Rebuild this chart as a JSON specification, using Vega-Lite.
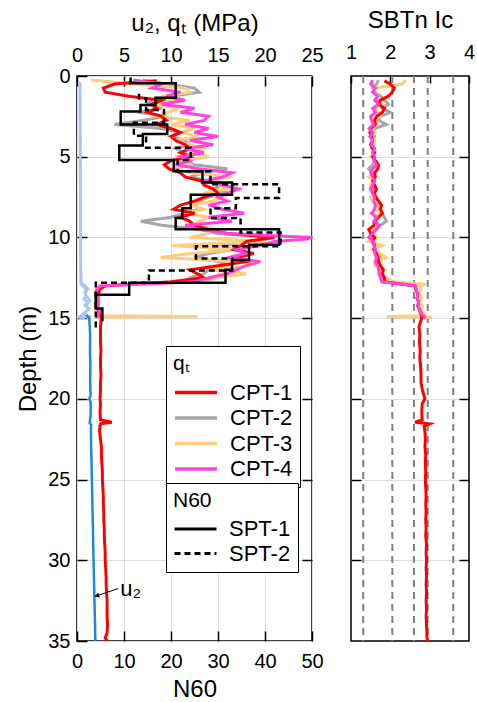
{
  "$schema": "https://vega.github.io/schema/vega-lite/v6.json",
  "background": "white",
  "padding": {"left": 16, "top": 7, "right": 5, "bottom": 5},
  "config": {
    "font": "Liberation Sans",
    "view": {"stroke": "black", "strokeWidth": 1.5},
    "axis": {"labelFontSize": 20, "titleFontSize": 24, "titleFontWeight": "normal", "labelColor": "black", "titleColor": "black", "tickColor": "black", "tickWidth": 1.5, "domain": false, "gridColor": "#dcdcdc", "gridWidth": 1, "tickSize": -10, "labelPadding": 20, "titlePadding": 8, "labelOverlap": false, "labelFlush": false, "labelBound": false},
    "legend": {"labelFontSize": 22, "titleFontSize": 21, "titleFontWeight": "normal", "labelColor": "black", "titleColor": "black", "symbolType": "M-1,0H3", "symbolSize": 441, "symbolStrokeWidth": 3.5, "strokeColor": "black", "fillColor": "white", "padding": 7, "rowPadding": 1.5, "titlePadding": 6, "labelOffset": 32, "orient": "none", "labelLimit": 300}
  },
  "datasets": {
    "cpt": [
      {"c":"CPT-2","d":0.25,"q":7.0,"i":1.70},{"c":"CPT-2","d":0.5,"q":9.5,"i":1.65},{"c":"CPT-2","d":0.75,"q":12.5,"i":1.55},{"c":"CPT-2","d":1.0,"q":13.0,"i":1.60},{"c":"CPT-2","d":1.25,"q":10.0,"i":1.75},{"c":"CPT-2","d":1.5,"q":8.0,"i":1.85},{"c":"CPT-2","d":1.75,"q":7.5,"i":1.95},{"c":"CPT-2","d":2.0,"q":9.0,"i":1.80},{"c":"CPT-2","d":2.25,"q":6.5,"i":2.00},{"c":"CPT-2","d":2.5,"q":9.5,"i":1.75},{"c":"CPT-2","d":2.75,"q":7.0,"i":1.70},{"c":"CPT-2","d":3.0,"q":4.0,"i":1.90},{"c":"CPT-2","d":3.25,"q":9.0,"i":1.60},{"c":"CPT-2","d":3.5,"q":11.0,"i":1.55},{"c":"CPT-2","d":3.75,"q":10.0,"i":1.60},{"c":"CPT-2","d":4.0,"q":11.5,"i":1.55},{"c":"CPT-2","d":4.25,"q":12.0,"i":1.50},{"c":"CPT-2","d":4.5,"q":10.5,"i":1.60},{"c":"CPT-2","d":4.75,"q":11.5,"i":1.55},{"c":"CPT-2","d":5.0,"q":12.0,"i":1.58},{"c":"CPT-2","d":5.25,"q":11.0,"i":1.60},{"c":"CPT-2","d":5.5,"q":12.5,"i":1.55},{"c":"CPT-2","d":5.75,"q":16.0,"i":1.45},{"c":"CPT-2","d":6.0,"q":13.5,"i":1.55},{"c":"CPT-2","d":6.25,"q":12.0,"i":1.60},{"c":"CPT-2","d":6.5,"q":14.0,"i":1.58},{"c":"CPT-2","d":6.75,"q":15.5,"i":1.55},{"c":"CPT-2","d":7.0,"q":14.5,"i":1.60},{"c":"CPT-2","d":7.25,"q":16.0,"i":1.55},{"c":"CPT-2","d":7.5,"q":14.0,"i":1.65},{"c":"CPT-2","d":7.75,"q":13.0,"i":1.70},{"c":"CPT-2","d":8.0,"q":12.5,"i":1.75},{"c":"CPT-2","d":8.25,"q":13.0,"i":1.72},{"c":"CPT-2","d":8.5,"q":11.5,"i":1.78},{"c":"CPT-2","d":8.75,"q":10.0,"i":1.85},{"c":"CPT-2","d":9.0,"q":6.8,"i":1.90},{"c":"CPT-2","d":9.25,"q":9.0,"i":1.75},{"c":"CPT-2","d":9.5,"q":13.0,"i":1.60},{"c":"CPT-2","d":9.75,"q":15.0,"i":1.55},{"c":"CPT-2","d":10.0,"q":21.0,"i":1.50},{"c":"CPT-2","d":10.25,"q":18.5,"i":1.55},{"c":"CPT-2","d":10.5,"q":15.5,"i":1.62},{"c":"CPT-2","d":10.75,"q":16.5,"i":1.60},{"c":"CPT-2","d":11.0,"q":14.0,"i":1.70},{"c":"CPT-2","d":11.25,"q":12.5,"i":1.75},{"c":"CPT-2","d":11.5,"q":15.0,"i":1.68},{"c":"CPT-2","d":11.75,"q":16.5,"i":1.70},{"c":"CPT-2","d":12.0,"q":14.0,"i":1.75},{"c":"CPT-2","d":12.25,"q":13.5,"i":1.80},{"c":"CPT-2","d":12.5,"q":12.0,"i":1.82},{"c":"CPT-2","d":12.75,"q":11.5,"i":1.88},{"c":"CPT-2","d":13.0,"q":2.6,"i":2.65},{"c":"CPT-2","d":13.25,"q":2.2,"i":2.66},{"c":"CPT-2","d":13.5,"q":2.0,"i":2.70},{"c":"CPT-2","d":13.75,"q":2.1,"i":2.68},{"c":"CPT-2","d":14.0,"q":2.0,"i":2.72},{"c":"CPT-2","d":14.25,"q":2.2,"i":2.70},{"c":"CPT-2","d":14.5,"q":2.3,"i":2.74},{"c":"CPT-2","d":14.75,"q":2.2,"i":2.80},{"c":"CPT-2","d":15.0,"q":2.4,"i":2.85},
      {"c":"CPT-3","d":0.25,"q":1.5,"i":2.40},{"c":"CPT-3","d":0.5,"q":6.0,"i":2.30},{"c":"CPT-3","d":0.75,"q":11.5,"i":1.60},{"c":"CPT-3","d":1.0,"q":12.0,"i":1.55},{"c":"CPT-3","d":1.25,"q":9.0,"i":1.70},{"c":"CPT-3","d":1.5,"q":10.5,"i":1.65},{"c":"CPT-3","d":1.75,"q":8.0,"i":1.80},{"c":"CPT-3","d":2.0,"q":11.0,"i":1.60},{"c":"CPT-3","d":2.25,"q":9.5,"i":1.70},{"c":"CPT-3","d":2.5,"q":8.5,"i":1.75},{"c":"CPT-3","d":2.75,"q":12.0,"i":1.60},{"c":"CPT-3","d":3.0,"q":10.0,"i":1.65},{"c":"CPT-3","d":3.25,"q":12.5,"i":1.55},{"c":"CPT-3","d":3.5,"q":11.0,"i":1.62},{"c":"CPT-3","d":3.75,"q":13.0,"i":1.50},{"c":"CPT-3","d":4.0,"q":10.5,"i":1.60},{"c":"CPT-3","d":4.25,"q":12.0,"i":1.58},{"c":"CPT-3","d":4.5,"q":13.5,"i":1.52},{"c":"CPT-3","d":4.75,"q":12.0,"i":1.60},{"c":"CPT-3","d":5.0,"q":14.0,"i":1.50},{"c":"CPT-3","d":5.25,"q":11.0,"i":1.62},{"c":"CPT-3","d":5.5,"q":12.0,"i":1.60},{"c":"CPT-3","d":5.75,"q":10.5,"i":1.65},{"c":"CPT-3","d":6.0,"q":12.0,"i":1.60},{"c":"CPT-3","d":6.25,"q":16.5,"i":1.45},{"c":"CPT-3","d":6.5,"q":14.0,"i":1.55},{"c":"CPT-3","d":6.75,"q":15.0,"i":1.50},{"c":"CPT-3","d":7.0,"q":16.0,"i":1.48},{"c":"CPT-3","d":7.25,"q":13.5,"i":1.60},{"c":"CPT-3","d":7.5,"q":15.5,"i":1.50},{"c":"CPT-3","d":7.75,"q":14.5,"i":1.55},{"c":"CPT-3","d":8.0,"q":12.0,"i":1.68},{"c":"CPT-3","d":8.25,"q":13.5,"i":1.62},{"c":"CPT-3","d":8.5,"q":11.7,"i":1.75},{"c":"CPT-3","d":8.75,"q":14.0,"i":1.60},{"c":"CPT-3","d":9.0,"q":13.0,"i":1.65},{"c":"CPT-3","d":9.25,"q":12.5,"i":1.70},{"c":"CPT-3","d":9.5,"q":15.0,"i":1.55},{"c":"CPT-3","d":9.75,"q":14.0,"i":1.60},{"c":"CPT-3","d":10.0,"q":12.0,"i":1.65},{"c":"CPT-3","d":10.25,"q":20.0,"i":1.45},{"c":"CPT-3","d":10.5,"q":10.0,"i":1.80},{"c":"CPT-3","d":10.75,"q":17.0,"i":1.55},{"c":"CPT-3","d":11.0,"q":12.0,"i":1.75},{"c":"CPT-3","d":11.25,"q":8.9,"i":1.90},{"c":"CPT-3","d":11.5,"q":17.5,"i":1.60},{"c":"CPT-3","d":11.75,"q":18.5,"i":1.60},{"c":"CPT-3","d":12.0,"q":14.0,"i":1.85},{"c":"CPT-3","d":12.25,"q":18.0,"i":1.70},{"c":"CPT-3","d":12.5,"q":15.0,"i":1.90},{"c":"CPT-3","d":12.75,"q":13.0,"i":2.10},{"c":"CPT-3","d":12.9,"q":7.0,"i":2.90},{"c":"CPT-3","d":13.0,"q":2.2,"i":2.75},{"c":"CPT-3","d":13.25,"q":2.0,"i":2.78},{"c":"CPT-3","d":13.5,"q":1.9,"i":2.72},{"c":"CPT-3","d":13.75,"q":2.0,"i":2.80},{"c":"CPT-3","d":14.0,"q":2.1,"i":2.75},{"c":"CPT-3","d":14.25,"q":1.9,"i":2.82},{"c":"CPT-3","d":14.5,"q":2.0,"i":2.78},{"c":"CPT-3","d":14.75,"q":2.3,"i":2.85},{"c":"CPT-3","d":14.85,"q":2.3,"i":2.90},{"c":"CPT-3","d":14.9,"q":12.8,"i":1.90},{"c":"CPT-3","d":14.95,"q":2.2,"i":3.05},{"c":"CPT-3","d":15.0,"q":2.2,"i":2.95},
      {"c":"CPT-1","d":0.3,"q":8.5,"i":1.85},{"c":"CPT-1","d":0.5,"q":4.0,"i":2.00},{"c":"CPT-1","d":0.75,"q":2.8,"i":2.10},{"c":"CPT-1","d":1.0,"q":3.0,"i":2.05},{"c":"CPT-1","d":1.25,"q":5.5,"i":1.95},{"c":"CPT-1","d":1.5,"q":9.0,"i":1.75},{"c":"CPT-1","d":1.75,"q":8.0,"i":1.70},{"c":"CPT-1","d":2.0,"q":8.5,"i":1.85},{"c":"CPT-1","d":2.25,"q":7.5,"i":1.80},{"c":"CPT-1","d":2.5,"q":9.0,"i":1.65},{"c":"CPT-1","d":2.75,"q":9.5,"i":1.60},{"c":"CPT-1","d":3.0,"q":8.5,"i":1.62},{"c":"CPT-1","d":3.25,"q":10.0,"i":1.50},{"c":"CPT-1","d":3.5,"q":11.0,"i":1.48},{"c":"CPT-1","d":3.75,"q":10.0,"i":1.52},{"c":"CPT-1","d":4.0,"q":10.5,"i":1.55},{"c":"CPT-1","d":4.25,"q":11.5,"i":1.50},{"c":"CPT-1","d":4.5,"q":12.0,"i":1.55},{"c":"CPT-1","d":4.75,"q":11.0,"i":1.60},{"c":"CPT-1","d":5.0,"q":12.0,"i":1.55},{"c":"CPT-1","d":5.25,"q":10.0,"i":1.62},{"c":"CPT-1","d":5.5,"q":9.3,"i":1.70},{"c":"CPT-1","d":5.75,"q":9.8,"i":1.68},{"c":"CPT-1","d":6.0,"q":11.0,"i":1.60},{"c":"CPT-1","d":6.25,"q":11.5,"i":1.62},{"c":"CPT-1","d":6.5,"q":13.2,"i":1.55},{"c":"CPT-1","d":6.75,"q":13.5,"i":1.60},{"c":"CPT-1","d":7.0,"q":14.5,"i":1.65},{"c":"CPT-1","d":7.25,"q":15.0,"i":1.60},{"c":"CPT-1","d":7.5,"q":13.5,"i":1.62},{"c":"CPT-1","d":7.75,"q":12.5,"i":1.70},{"c":"CPT-1","d":8.0,"q":11.0,"i":1.78},{"c":"CPT-1","d":8.25,"q":10.3,"i":1.75},{"c":"CPT-1","d":8.5,"q":12.5,"i":1.80},{"c":"CPT-1","d":8.75,"q":11.0,"i":1.70},{"c":"CPT-1","d":9.0,"q":12.0,"i":1.60},{"c":"CPT-1","d":9.25,"q":12.5,"i":1.58},{"c":"CPT-1","d":9.5,"q":14.0,"i":1.45},{"c":"CPT-1","d":9.75,"q":16.0,"i":1.50},{"c":"CPT-1","d":10.0,"q":21.0,"i":1.60},{"c":"CPT-1","d":10.25,"q":18.0,"i":1.55},{"c":"CPT-1","d":10.5,"q":17.5,"i":1.60},{"c":"CPT-1","d":10.75,"q":16.7,"i":1.58},{"c":"CPT-1","d":11.0,"q":18.8,"i":1.65},{"c":"CPT-1","d":11.25,"q":17.0,"i":1.68},{"c":"CPT-1","d":11.5,"q":18.0,"i":1.70},{"c":"CPT-1","d":11.75,"q":15.0,"i":1.75},{"c":"CPT-1","d":12.0,"q":12.0,"i":1.82},{"c":"CPT-1","d":12.25,"q":12.8,"i":1.80},{"c":"CPT-1","d":12.5,"q":13.5,"i":1.85},{"c":"CPT-1","d":12.75,"q":10.0,"i":1.85},{"c":"CPT-1","d":13.0,"q":3.0,"i":2.62},{"c":"CPT-1","d":13.25,"q":2.4,"i":2.65},{"c":"CPT-1","d":13.5,"q":2.3,"i":2.70},{"c":"CPT-1","d":13.75,"q":2.2,"i":2.68},{"c":"CPT-1","d":14.0,"q":2.3,"i":2.72},{"c":"CPT-1","d":14.25,"q":2.2,"i":2.70},{"c":"CPT-1","d":14.5,"q":2.3,"i":2.75},{"c":"CPT-1","d":14.75,"q":2.4,"i":2.78},{"c":"CPT-1","d":15.0,"q":2.6,"i":2.80},{"c":"CPT-1","d":15.5,"q":2.5,"i":2.73},{"c":"CPT-1","d":16.0,"q":2.5,"i":2.75},{"c":"CPT-1","d":16.5,"q":2.5,"i":2.74},{"c":"CPT-1","d":17.0,"q":2.55,"i":2.76},{"c":"CPT-1","d":17.5,"q":2.5,"i":2.75},{"c":"CPT-1","d":18.0,"q":2.5,"i":2.77},{"c":"CPT-1","d":18.5,"q":2.55,"i":2.78},{"c":"CPT-1","d":19.0,"q":2.5,"i":2.78},{"c":"CPT-1","d":19.5,"q":2.5,"i":2.82},{"c":"CPT-1","d":20.0,"q":2.45,"i":2.88},{"c":"CPT-1","d":20.3,"q":2.5,"i":2.81},{"c":"CPT-1","d":20.8,"q":2.45,"i":2.80},{"c":"CPT-1","d":21.3,"q":2.5,"i":2.81},{"c":"CPT-1","d":21.45,"q":3.7,"i":2.63},{"c":"CPT-1","d":21.55,"q":2.5,"i":3.00},{"c":"CPT-1","d":21.7,"q":2.45,"i":2.86},{"c":"CPT-1","d":22.0,"q":2.4,"i":2.88},{"c":"CPT-1","d":22.5,"q":2.5,"i":2.89},{"c":"CPT-1","d":23.0,"q":2.6,"i":2.88},{"c":"CPT-1","d":23.5,"q":2.6,"i":2.90},{"c":"CPT-1","d":24.0,"q":2.65,"i":2.89},{"c":"CPT-1","d":24.5,"q":2.7,"i":2.90},{"c":"CPT-1","d":25.0,"q":2.7,"i":2.89},{"c":"CPT-1","d":25.5,"q":2.75,"i":2.90},{"c":"CPT-1","d":26.0,"q":2.8,"i":2.91},{"c":"CPT-1","d":26.5,"q":2.8,"i":2.90},{"c":"CPT-1","d":27.0,"q":2.85,"i":2.91},{"c":"CPT-1","d":27.5,"q":2.85,"i":2.90},{"c":"CPT-1","d":28.0,"q":2.9,"i":2.91},{"c":"CPT-1","d":28.5,"q":2.9,"i":2.90},{"c":"CPT-1","d":29.0,"q":2.95,"i":2.92},{"c":"CPT-1","d":29.5,"q":3.0,"i":2.91},{"c":"CPT-1","d":30.0,"q":3.0,"i":2.92},{"c":"CPT-1","d":30.5,"q":3.05,"i":2.91},{"c":"CPT-1","d":31.0,"q":3.1,"i":2.92},{"c":"CPT-1","d":31.5,"q":3.1,"i":2.91},{"c":"CPT-1","d":32.0,"q":3.15,"i":2.92},{"c":"CPT-1","d":32.5,"q":3.2,"i":2.91},{"c":"CPT-1","d":33.0,"q":3.2,"i":2.92},{"c":"CPT-1","d":33.5,"q":3.2,"i":2.91},{"c":"CPT-1","d":34.0,"q":3.25,"i":2.92},{"c":"CPT-1","d":34.5,"q":3.2,"i":2.93},{"c":"CPT-1","d":34.8,"q":3.0,"i":2.93},{"c":"CPT-1","d":35.0,"q":3.2,"i":2.95},
      {"c":"CPT-4","d":0.25,"q":6.0,"i":1.55},{"c":"CPT-4","d":0.5,"q":9.0,"i":1.50},{"c":"CPT-4","d":0.75,"q":8.0,"i":1.62},{"c":"CPT-4","d":1.0,"q":11.0,"i":1.55},{"c":"CPT-4","d":1.25,"q":9.5,"i":1.68},{"c":"CPT-4","d":1.5,"q":11.5,"i":1.60},{"c":"CPT-4","d":1.75,"q":9.0,"i":1.70},{"c":"CPT-4","d":2.0,"q":12.5,"i":1.55},{"c":"CPT-4","d":2.25,"q":11.0,"i":1.62},{"c":"CPT-4","d":2.5,"q":14.0,"i":1.50},{"c":"CPT-4","d":2.75,"q":13.5,"i":1.52},{"c":"CPT-4","d":3.0,"q":11.5,"i":1.58},{"c":"CPT-4","d":3.25,"q":14.0,"i":1.46},{"c":"CPT-4","d":3.5,"q":12.5,"i":1.55},{"c":"CPT-4","d":3.75,"q":15.0,"i":1.48},{"c":"CPT-4","d":4.0,"q":12.0,"i":1.55},{"c":"CPT-4","d":4.25,"q":14.5,"i":1.52},{"c":"CPT-4","d":4.5,"q":11.5,"i":1.60},{"c":"CPT-4","d":4.75,"q":13.5,"i":1.55},{"c":"CPT-4","d":5.0,"q":11.0,"i":1.60},{"c":"CPT-4","d":5.25,"q":12.0,"i":1.58},{"c":"CPT-4","d":5.5,"q":10.5,"i":1.65},{"c":"CPT-4","d":5.75,"q":13.0,"i":1.55},{"c":"CPT-4","d":6.0,"q":16.5,"i":1.50},{"c":"CPT-4","d":6.25,"q":15.5,"i":1.55},{"c":"CPT-4","d":6.5,"q":13.5,"i":1.60},{"c":"CPT-4","d":6.75,"q":15.5,"i":1.55},{"c":"CPT-4","d":7.0,"q":17.2,"i":1.50},{"c":"CPT-4","d":7.25,"q":16.0,"i":1.55},{"c":"CPT-4","d":7.5,"q":15.0,"i":1.60},{"c":"CPT-4","d":7.75,"q":16.0,"i":1.58},{"c":"CPT-4","d":8.0,"q":14.0,"i":1.62},{"c":"CPT-4","d":8.25,"q":15.5,"i":1.60},{"c":"CPT-4","d":8.5,"q":17.8,"i":1.52},{"c":"CPT-4","d":8.75,"q":14.0,"i":1.65},{"c":"CPT-4","d":9.0,"q":16.5,"i":1.58},{"c":"CPT-4","d":9.25,"q":11.5,"i":1.72},{"c":"CPT-4","d":9.5,"q":13.0,"i":1.65},{"c":"CPT-4","d":9.75,"q":16.0,"i":1.55},{"c":"CPT-4","d":10.0,"q":25.0,"i":1.45},{"c":"CPT-4","d":10.1,"q":24.5,"i":1.50},{"c":"CPT-4","d":10.25,"q":21.0,"i":1.55},{"c":"CPT-4","d":10.5,"q":19.5,"i":1.58},{"c":"CPT-4","d":10.75,"q":17.0,"i":1.62},{"c":"CPT-4","d":11.0,"q":18.0,"i":1.60},{"c":"CPT-4","d":11.25,"q":16.0,"i":1.65},{"c":"CPT-4","d":11.5,"q":19.5,"i":1.62},{"c":"CPT-4","d":11.75,"q":18.0,"i":1.68},{"c":"CPT-4","d":12.0,"q":17.0,"i":1.70},{"c":"CPT-4","d":12.25,"q":16.0,"i":1.72},{"c":"CPT-4","d":12.5,"q":14.0,"i":1.75},{"c":"CPT-4","d":12.75,"q":12.5,"i":1.78},{"c":"CPT-4","d":13.0,"q":2.5,"i":2.64},{"c":"CPT-4","d":13.25,"q":2.1,"i":2.66},{"c":"CPT-4","d":13.5,"q":2.0,"i":2.70},{"c":"CPT-4","d":13.75,"q":2.2,"i":2.68},{"c":"CPT-4","d":14.0,"q":2.3,"i":2.72},{"c":"CPT-4","d":14.25,"q":2.1,"i":2.70},{"c":"CPT-4","d":14.5,"q":2.4,"i":2.75},{"c":"CPT-4","d":14.75,"q":2.3,"i":2.80},{"c":"CPT-4","d":15.0,"q":2.2,"i":2.90}
    ],
    "u2": [
      {"g":"L1","d":0.4,"u":0.35},{"g":"L1","d":1,"u":0.33},{"g":"L1","d":2,"u":0.36},{"g":"L1","d":3,"u":0.34},{"g":"L1","d":4,"u":0.37},{"g":"L1","d":5,"u":0.35},{"g":"L1","d":6,"u":0.38},{"g":"L1","d":7,"u":0.36},{"g":"L1","d":8,"u":0.39},{"g":"L1","d":9,"u":0.37},{"g":"L1","d":10,"u":0.4},{"g":"L1","d":11,"u":0.38},{"g":"L1","d":12,"u":0.42},{"g":"L1","d":12.8,"u":0.45},{"g":"L1","d":13.0,"u":0.9},{"g":"L1","d":13.2,"u":1.2},{"g":"L1","d":13.4,"u":0.8},{"g":"L1","d":13.6,"u":1.0},{"g":"L1","d":13.8,"u":0.7},{"g":"L1","d":14.0,"u":1.1},{"g":"L1","d":14.2,"u":0.8},{"g":"L1","d":14.4,"u":1.3},{"g":"L1","d":14.6,"u":0.9},{"g":"L1","d":14.8,"u":0.5},{"g":"L1","d":14.9,"u":1.5},{"g":"L1","d":15.0,"u":1.0},
      {"g":"L2","d":0.4,"u":0.3},{"g":"L2","d":2,"u":0.3},{"g":"L2","d":4,"u":0.32},{"g":"L2","d":6,"u":0.33},{"g":"L2","d":8,"u":0.35},{"g":"L2","d":10,"u":0.36},{"g":"L2","d":12,"u":0.38},{"g":"L2","d":12.9,"u":0.4},{"g":"L2","d":13.1,"u":0.8},{"g":"L2","d":13.3,"u":1.0},{"g":"L2","d":13.6,"u":0.9},{"g":"L2","d":13.9,"u":1.4},{"g":"L2","d":14.2,"u":1.0},{"g":"L2","d":14.5,"u":1.2},{"g":"L2","d":14.8,"u":0.6},{"g":"L2","d":14.95,"u":0.2},{"g":"L2","d":15.0,"u":0.9}
    ],
    "u2b": [
      {"d":14.8,"u":1.0},{"d":15.0,"u":1.3},{"d":15.5,"u":1.35},{"d":16,"u":1.4},{"d":17,"u":1.38},{"d":18,"u":1.42},{"d":19,"u":1.4},{"d":19.8,"u":1.45},{"d":20.0,"u":1.3},{"d":20.2,"u":1.45},{"d":21,"u":1.45},{"d":21.5,"u":1.35},{"d":21.6,"u":1.5},{"d":22,"u":1.48},{"d":23,"u":1.5},{"d":24,"u":1.55},{"d":25,"u":1.58},{"d":26,"u":1.62},{"d":27,"u":1.65},{"d":28,"u":1.7},{"d":29,"u":1.72},{"d":30,"u":1.76},{"d":31,"u":1.8},{"d":32,"u":1.84},{"d":33,"u":1.88},{"d":34,"u":1.92},{"d":35,"u":1.95}
    ],
    "spt": [
      {"s":"SPT-1","o":1,"d":0.1,"n":11.4},{"s":"SPT-1","o":2,"d":0.45,"n":11.4},{"s":"SPT-1","o":3,"d":0.45,"n":21.0},{"s":"SPT-1","o":4,"d":1.35,"n":21.0},{"s":"SPT-1","o":5,"d":1.35,"n":16.7},{"s":"SPT-1","o":6,"d":1.8,"n":16.7},{"s":"SPT-1","o":7,"d":1.8,"n":13.5},{"s":"SPT-1","o":8,"d":2.2,"n":13.5},{"s":"SPT-1","o":9,"d":2.2,"n":9.3},{"s":"SPT-1","o":10,"d":3.0,"n":9.3},{"s":"SPT-1","o":11,"d":3.0,"n":19.2},{"s":"SPT-1","o":12,"d":3.6,"n":19.2},{"s":"SPT-1","o":13,"d":3.6,"n":14.0},{"s":"SPT-1","o":14,"d":4.3,"n":14.0},{"s":"SPT-1","o":15,"d":4.3,"n":9.0},{"s":"SPT-1","o":16,"d":5.2,"n":9.0},{"s":"SPT-1","o":17,"d":5.2,"n":20.6},{"s":"SPT-1","o":18,"d":5.9,"n":20.6},{"s":"SPT-1","o":19,"d":5.9,"n":26.7},{"s":"SPT-1","o":20,"d":6.6,"n":26.7},{"s":"SPT-1","o":21,"d":6.6,"n":33.0},{"s":"SPT-1","o":22,"d":7.35,"n":33.0},{"s":"SPT-1","o":23,"d":7.35,"n":24.2},{"s":"SPT-1","o":24,"d":8.2,"n":24.2},{"s":"SPT-1","o":25,"d":8.2,"n":22.4},{"s":"SPT-1","o":26,"d":8.8,"n":22.4},{"s":"SPT-1","o":27,"d":8.8,"n":21.0},{"s":"SPT-1","o":28,"d":9.5,"n":21.0},{"s":"SPT-1","o":29,"d":9.5,"n":43.0},{"s":"SPT-1","o":30,"d":10.45,"n":43.0},{"s":"SPT-1","o":31,"d":10.45,"n":36.6},{"s":"SPT-1","o":32,"d":11.4,"n":36.6},{"s":"SPT-1","o":33,"d":11.4,"n":33.0},{"s":"SPT-1","o":34,"d":12.0,"n":33.0},{"s":"SPT-1","o":35,"d":12.0,"n":31.6},{"s":"SPT-1","o":36,"d":12.8,"n":31.6},{"s":"SPT-1","o":37,"d":12.8,"n":11.1},{"s":"SPT-1","o":38,"d":13.55,"n":11.1},{"s":"SPT-1","o":39,"d":13.55,"n":4.0},{"s":"SPT-1","o":40,"d":14.4,"n":4.0},{"s":"SPT-1","o":41,"d":14.4,"n":5.4},{"s":"SPT-1","o":42,"d":15.2,"n":5.4},
      {"s":"SPT-2","o":1,"d":1.1,"n":13.2},{"s":"SPT-2","o":2,"d":1.4,"n":13.2},{"s":"SPT-2","o":3,"d":1.4,"n":14.7},{"s":"SPT-2","o":4,"d":2.1,"n":14.7},{"s":"SPT-2","o":5,"d":2.1,"n":18.5},{"s":"SPT-2","o":6,"d":2.9,"n":18.5},{"s":"SPT-2","o":7,"d":2.9,"n":12.1},{"s":"SPT-2","o":8,"d":3.7,"n":12.1},{"s":"SPT-2","o":9,"d":3.7,"n":14.7},{"s":"SPT-2","o":10,"d":4.45,"n":14.7},{"s":"SPT-2","o":11,"d":4.45,"n":24.2},{"s":"SPT-2","o":12,"d":5.2,"n":24.2},{"s":"SPT-2","o":13,"d":5.2,"n":21.4},{"s":"SPT-2","o":14,"d":5.9,"n":21.4},{"s":"SPT-2","o":15,"d":5.9,"n":28.4},{"s":"SPT-2","o":16,"d":6.7,"n":28.4},{"s":"SPT-2","o":17,"d":6.7,"n":43.0},{"s":"SPT-2","o":18,"d":7.55,"n":43.0},{"s":"SPT-2","o":19,"d":7.55,"n":33.8},{"s":"SPT-2","o":20,"d":8.2,"n":33.8},{"s":"SPT-2","o":21,"d":8.2,"n":28.4},{"s":"SPT-2","o":22,"d":8.8,"n":28.4},{"s":"SPT-2","o":23,"d":8.8,"n":34.8},{"s":"SPT-2","o":24,"d":9.7,"n":34.8},{"s":"SPT-2","o":25,"d":9.7,"n":43.3},{"s":"SPT-2","o":26,"d":10.55,"n":43.3},{"s":"SPT-2","o":27,"d":10.55,"n":25.3},{"s":"SPT-2","o":28,"d":11.3,"n":25.3},{"s":"SPT-2","o":29,"d":11.3,"n":33.0},{"s":"SPT-2","o":30,"d":12.05,"n":33.0},{"s":"SPT-2","o":31,"d":12.05,"n":15.3},{"s":"SPT-2","o":32,"d":12.8,"n":15.3},{"s":"SPT-2","o":33,"d":12.8,"n":4.0},{"s":"SPT-2","o":34,"d":15.8,"n":4.0}
    ],
    "note": [{"t":"u₂","q":4.6,"d":31.75,"q2":2.1,"d2":32.2,"q1":4.4}],
    "bounds": [{"ic":1.31},{"ic":2.05},{"ic":2.6},{"ic":2.95},{"ic":3.6}]
  },
  "bounds": "flush",
  "spacing": 39,
  "hconcat": [
    {
      "width": 235,
      "height": 565,
      "layer": [
        {
          "layer": [
            {
              "data": {"name": "u2"},
              "mark": {"type": "line", "strokeWidth": 2.5, "color": "#a9c4f5"},
              "encoding": {
                "x": {"field": "u", "type": "quantitative", "scale": {"domain": [0, 25]}},
                "y": {"field": "d", "type": "quantitative", "scale": {"domain": [0, 35], "reverse": true}},
                "detail": {"field": "g"},
                "order": {"field": "d", "type": "quantitative"}
              }
            },
            {
              "data": {"name": "u2b"},
              "mark": {"type": "line", "strokeWidth": 2.5, "color": "#1d8ad3"},
              "encoding": {
                "x": {"field": "u", "type": "quantitative", "scale": {"domain": [0, 25]}},
                "y": {"field": "d", "type": "quantitative", "scale": {"domain": [0, 35], "reverse": true}},
                "order": {"field": "d", "type": "quantitative"}
              }
            },
            {
              "data": {"name": "cpt"},
              "mark": {"type": "line", "strokeWidth": 3},
              "encoding": {
                "x": {"field": "q", "type": "quantitative", "scale": {"domain": [0, 25]}, "axis": {"orient": "top", "title": "u₂, qₜ (MPa)", "values": [0, 5, 10, 15, 20, 25], "grid": true, "labelPadding": 21, "titlePadding": 10}},
                "y": {"field": "d", "type": "quantitative", "scale": {"domain": [0, 35], "reverse": true}, "axis": {"title": "Depth (m)", "values": [0, 5, 10, 15, 20, 25, 30, 35], "grid": true, "labelPadding": 17, "titlePadding": 7}},
                "color": {"field": "c", "type": "nominal", "scale": {"domain": ["CPT-1", "CPT-2", "CPT-3", "CPT-4"], "range": ["#ff0000", "#a6a6a6", "#ffcc80", "#ff44dd"]}, "legend": {"title": "qₜ", "legendX": 89, "legendY": 270, "labelExpr": "datum.label + '\u00a0\u00a0\u00a0'"}},
                "order": {"field": "d", "type": "quantitative"}
              }
            },
            {
              "data": {"name": "note"},
              "mark": {"type": "rule", "strokeWidth": 1, "color": "black"},
              "encoding": {
                "x": {"field": "q1", "type": "quantitative", "scale": {"domain": [0, 25]}},
                "x2": {"field": "q2"},
                "y": {"field": "d", "type": "quantitative", "scale": {"domain": [0, 35], "reverse": true}},
                "y2": {"field": "d2"}
              }
            },
            {
              "data": {"name": "note"},
              "mark": {"type": "point", "shape": "triangle-left", "size": 30, "filled": true, "color": "black", "opacity": 1, "angle": 341},
              "encoding": {
                "x": {"field": "q2", "type": "quantitative", "scale": {"domain": [0, 25]}},
                "y": {"field": "d2", "type": "quantitative", "scale": {"domain": [0, 35], "reverse": true}}
              }
            },
            {
              "data": {"name": "note"},
              "mark": {"type": "text", "fontSize": 22, "align": "left", "baseline": "middle", "color": "black"},
              "encoding": {
                "x": {"field": "q", "type": "quantitative", "scale": {"domain": [0, 25]}},
                "y": {"field": "d", "type": "quantitative", "scale": {"domain": [0, 35], "reverse": true}},
                "text": {"field": "t"}
              }
            }
          ]
        },
        {
          "data": {"name": "spt"},
          "mark": {"type": "line", "strokeWidth": 2.5, "color": "black"},
          "encoding": {
            "x": {"field": "n", "type": "quantitative", "scale": {"domain": [0, 50]}, "axis": {"orient": "bottom", "title": "N60", "values": [0, 10, 20, 30, 40, 50], "grid": false, "labelPadding": 20, "titlePadding": 6}},
            "y": {"field": "d", "type": "quantitative", "scale": {"domain": [0, 35], "reverse": true}, "axis": {"orient": "right", "labels": false, "title": null, "grid": false, "values": [5, 10, 15, 20, 25, 30]}},
            "strokeDash": {"field": "s", "type": "nominal", "scale": {"domain": ["SPT-1", "SPT-2"], "range": [[1, 0], [6, 4]]}, "legend": {"title": "N60", "legendX": 89, "legendY": 407, "symbolStrokeColor": "black", "symbolStrokeWidth": 3, "labelExpr": "datum.label + '\u00a0\u00a0\u00a0'"}},
            "order": {"field": "o", "type": "quantitative"}
          }
        }
      ],
      "resolve": {"scale": {"x": "independent"}, "axis": {"y": "independent"}}
    },
    {
      "width": 118,
      "height": 565,
      "layer": [
        {
          "data": {"name": "bounds"},
          "mark": {"type": "rule", "strokeDash": [7, 5], "color": "#808080", "strokeWidth": 2},
          "encoding": {
            "x": {"field": "ic", "type": "quantitative", "scale": {"domain": [1, 4]}, "axis": {"orient": "top", "title": "SBTn Ic", "values": [1, 2, 3, 4], "grid": false, "labelPadding": 21, "titlePadding": 10, "tickSize": -7}}
          }
        },
        {
          "data": {"name": "cpt"},
          "transform": [{"filter": "datum.c != 'CPT-4'"}],
          "mark": {"type": "line", "strokeWidth": 3},
          "encoding": {
            "x": {"field": "i", "type": "quantitative", "scale": {"domain": [1, 4]}, "axis": {"orient": "top", "title": "SBTn Ic", "values": [1, 2, 3, 4], "grid": false, "labelPadding": 21, "titlePadding": 10, "tickSize": -7}},
            "y": {"field": "d", "type": "quantitative", "scale": {"domain": [0, 35], "reverse": true}, "axis": {"labels": false, "title": null, "grid": true, "values": [5, 10, 15, 20, 25, 30]}},
            "color": {"field": "c", "type": "nominal", "scale": {"domain": ["CPT-1", "CPT-2", "CPT-3", "CPT-4"], "range": ["#ff0000", "#a6a6a6", "#ffcc80", "#ff44dd"]}, "legend": null},
            "order": {"field": "d", "type": "quantitative"}
          }
        },
        {
          "data": {"name": "cpt"},
          "transform": [{"filter": "datum.c == 'CPT-4'"}],
          "mark": {"type": "line", "strokeWidth": 3},
          "encoding": {
            "x": {"field": "i", "type": "quantitative", "scale": {"domain": [1, 4]}, "axis": {"orient": "top", "title": "SBTn Ic", "values": [1, 2, 3, 4], "grid": false, "labelPadding": 21, "titlePadding": 10, "tickSize": -7}},
            "y": {"field": "d", "type": "quantitative", "scale": {"domain": [0, 35], "reverse": true}, "axis": {"orient": "right", "labels": false, "title": null, "grid": false, "values": [5, 10, 15, 20, 25, 30]}},
            "color": {"field": "c", "type": "nominal", "scale": {"domain": ["CPT-1", "CPT-2", "CPT-3", "CPT-4"], "range": ["#ff0000", "#a6a6a6", "#ffcc80", "#ff44dd"]}, "legend": null},
            "order": {"field": "d", "type": "quantitative"}
          }
        }
      ],
      "resolve": {"axis": {"y": "independent"}}
    }
  ]
}
